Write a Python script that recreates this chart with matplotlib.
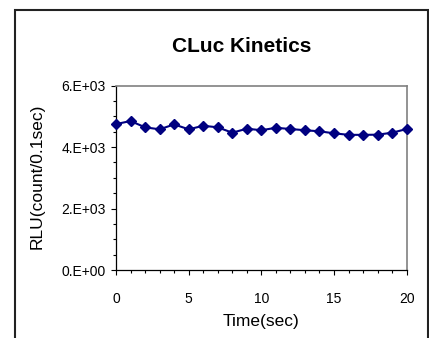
"""CLuc kinetics: RLU vs time, Excel-style scatter-with-lines."""

import matplotlib

matplotlib.use("Agg")
import matplotlib.pyplot as plt
from matplotlib.patches import Rectangle
from matplotlib.ticker import FixedLocator, MultipleLocator, FuncFormatter

plt.rcParams["font.family"] = ["Liberation Sans", "DejaVu Sans"]

time_sec = [0, 1, 2, 3, 4, 5, 6, 7, 8, 9, 10, 11, 12, 13, 14, 15, 16, 17, 18, 19, 20]
rlu = [4750, 4850, 4645, 4580, 4740, 4580, 4695, 4645, 4470, 4600, 4550,
       4630, 4590, 4550, 4515, 4450, 4400, 4400, 4405, 4470, 4590]
y_ticks = [0, 2000, 4000, 6000]
y_labels = ["0.E+00", "2.E+03", "4.E+03", "6.E+03"]

W, H = 429, 338
fig = plt.figure(figsize=(W / 100, H / 100), dpi=100)
ax = fig.add_axes([116 / W, 1 - 270 / H, (406.7 - 116) / W, (270 - 85.7) / H])
AX_H = 270 - 85.7
AX_W = 406.7 - 116

ax.plot(time_sec, rlu, color="#000080", linewidth=1.5, marker="D",
        markersize=5.5, clip_on=False, zorder=3)

ax.set_xlim(0, 20)
ax.set_ylim(0, 6000)
ax.xaxis.set_major_locator(MultipleLocator(5))
ax.xaxis.set_minor_locator(MultipleLocator(1))
ax.yaxis.set_major_locator(FixedLocator(y_ticks))
ax.yaxis.set_major_formatter(FuncFormatter(lambda v, p: y_labels[y_ticks.index(int(round(v)))]))
ax.yaxis.set_minor_locator(MultipleLocator(500))
ax.tick_params(which="both", direction="out", labelsize=10, color="black")
ax.tick_params(which="major", length=3.5, width=0.8)
ax.tick_params(axis="x", which="major", pad=12)
ax.tick_params(axis="y", which="major", pad=4)
ax.tick_params(which="minor", length=2.5, width=0.8)

for side in ("top", "right"):
    ax.spines[side].set_color("#808080")
    ax.spines[side].set_linewidth(1.2)
for side in ("left", "bottom"):
    ax.spines[side].set_color("black")
    ax.spines[side].set_linewidth(0.9)

ax.set_xlabel("Time(sec)", fontsize=12.5, va="center")
ax.xaxis.set_label_coords(0.5, (270 - 321.7) / AX_H)
ax.set_ylabel("RLU(count/0.1sec)", fontsize=12.5, va="center")
ax.yaxis.set_label_coords((37 - 116) / AX_W, (270 - 176.5) / AX_H)
fig.text(241.5 / W, 1 - 47 / H, "CLuc Kinetics", fontsize=15, fontweight="bold",
         ha="center", va="center")

# outer chart-area border (runs off the bottom of the image)
fig.patches.append(Rectangle((15 / W, -0.05), (428 - 15) / W, 1.05 - 10 / H,
                             transform=fig.transFigure, fill=False,
                             edgecolor="#222222", linewidth=1.5))

fig.savefig("out.png", dpi=100)
